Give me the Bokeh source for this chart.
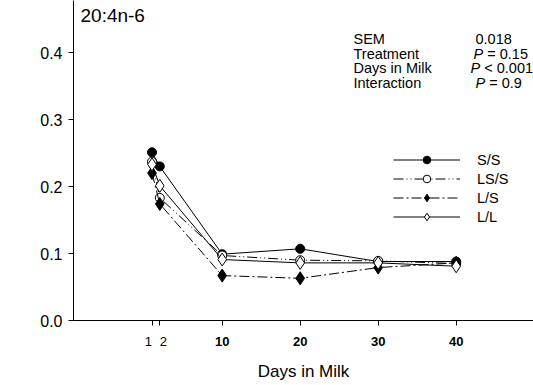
from bokeh.plotting import figure
from bokeh.models import (Label, Legend, LegendItem, LinearAxis,
                          FixedTicker, Range1d, PrintfTickFormatter)
from bokeh.embed import file_html
from bokeh.resources import INLINE

# ---------------- data ----------------
days = [1, 2, 10, 20, 30, 40]
ss = [0.251, 0.230, 0.099, 0.107, 0.088, 0.088]
lss = [0.237, 0.183, 0.097, 0.090, 0.089, 0.085]
ls = [0.220, 0.174, 0.067, 0.063, 0.079, 0.086]
ll = [0.233, 0.201, 0.091, 0.086, 0.086, 0.081]
series_names = ["S/S", "LS/S", "L/S", "L/L"]

x_ticks = [1, 2, 10, 20, 30, 40]
bold_ticks = [10, 20, 30, 40]
y_ticks = [0.0, 0.1, 0.2, 0.3, 0.4]

title_text = "20:4n-6"
x_label = "Days in Milk"
stats_names = ["SEM", "Treatment", "Days in Milk", "Interaction"]
stats_p = ["", "P", "P", "P"]
stats_values = ["0.018", "\u00a0= 0.15", "\u00a0< 0.001", "\u00a0= 0.9"]

FONT = "Liberation Sans"

# canvas pixel -> data helpers (for text placement only)
X0, XS = 143.7, 7.8        # canvas x of day 0, px per day
Y0, YS = 320.0, 670.0      # canvas y of value 0, px per unit
def dx(px):
    return (px - X0) / XS
def dy(py):
    return (Y0 - py) / YS

p = figure(frame_width=460, frame_height=320,
           min_border_left=73, min_border_right=0, min_border_top=0,
           min_border_bottom=65,
           x_range=Range1d(dx(73), dx(533)), y_range=Range1d(0, dy(0)),
           output_backend="svg", toolbar_location=None)
p.outline_line_color = None
p.xgrid.visible = False
p.ygrid.visible = False
p.background_fill_color = "white"
p.border_fill_color = "white"

# x axis (ticks + normal labels for 1, 2)
xa = p.xaxis[0]
xa.ticker = FixedTicker(ticks=x_ticks)
xa.minor_tick_line_color = None
xa.major_tick_in = 0
xa.major_tick_out = 5
xa.major_label_standoff = 8
xa.major_label_text_font = FONT
xa.major_label_text_font_size = "13px"
xa.major_label_text_color = "black"
overrides = {t: "" for t in bold_ticks}
overrides[1] = "1\u00a0\u00a0"
overrides[2] = "\u00a0\u00a02"
xa.major_label_overrides = overrides
xa.axis_line_color = "black"
xa.major_tick_line_color = "black"

# second x axis: bold labels for 10..40 and the axis title
xb = LinearAxis(ticker=FixedTicker(ticks=bold_ticks))
xb.axis_line_color = None
xb.major_tick_line_color = None
xb.minor_tick_line_color = None
xb.major_tick_in = 0
xb.major_tick_out = 0
xb.major_label_standoff = -15
xb.major_label_text_font = FONT
xb.major_label_text_font_size = "13px"
xb.major_label_text_font_style = "bold"
xb.major_label_text_color = "black"
xb.axis_label = x_label
xb.axis_label_text_font = FONT
xb.axis_label_text_font_size = "17px"
xb.axis_label_text_font_style = "normal"
xb.axis_label_text_color = "black"
xb.axis_label_standoff = 13
p.add_layout(xb, "below")

ya = p.yaxis[0]
ya.ticker = FixedTicker(ticks=y_ticks)
ya.formatter = PrintfTickFormatter(format="%.1f")
ya.minor_tick_line_color = None
ya.major_tick_in = 0
ya.major_tick_out = 5
ya.major_label_standoff = 6
ya.major_label_text_font = FONT
ya.major_label_text_font_size = "16px"
ya.major_label_text_color = "black"
ya.axis_line_color = "black"
ya.major_tick_line_color = "black"

# series
styles = [
    dict(dash="solid", marker="circle", fill="black", size=9),
    dict(dash="10 3 1 3 1 3", marker="circle", fill="white", size=9),
    dict(dash="10 3 2 3", marker="diamond", fill="black", size=13),
    dict(dash="solid", marker="diamond", fill="white", size=13),
]
items = []
for name, vals, st in zip(series_names, [ss, lss, ls, ll], styles):
    r1 = p.line(days, vals, line_color="black", line_width=1, line_dash=st["dash"])
    r2 = p.scatter(days, vals, marker=st["marker"], size=st["size"],
                   fill_color=st["fill"], line_color="black", line_width=1)
    items.append(LegendItem(label=name, renderers=[r1, r2]))

legend = Legend(items=items, location=(320, 94), padding=0, margin=0, spacing=0,
                glyph_width=67, glyph_height=19, label_height=19,
                label_standoff=17, label_text_font=FONT,
                label_text_font_size="14.5px", label_text_color="black",
                border_line_color=None, background_fill_alpha=0)
p.add_layout(legend)

# title
p.add_layout(Label(x=dx(80), y=dy(14.5), text=title_text, text_font=FONT,
                   text_font_size="19px", text_baseline="middle",
                   text_color="black"))

# stats block
row_y = [38.5, 53, 67.5, 82]
p_x = [475, 473, 470, 475]
for nm, pp, val, ry, px in zip(stats_names, stats_p, stats_values, row_y, p_x):
    p.add_layout(Label(x=dx(353), y=dy(ry), text=nm, text_font=FONT,
                       text_font_size="14.5px", text_baseline="middle",
                       text_color="black"))
    if pp:
        p.add_layout(Label(x=dx(px), y=dy(ry), text=pp, text_font=FONT,
                           text_font_size="14.5px", text_font_style="italic",
                           text_baseline="middle", text_color="black"))
        p.add_layout(Label(x=dx(px + 9.7), y=dy(ry), text=val, text_font=FONT,
                           text_font_size="14.5px", text_baseline="middle",
                           text_color="black"))
    else:
        p.add_layout(Label(x=dx(px), y=dy(ry), text=val, text_font=FONT,
                           text_font_size="14.5px", text_baseline="middle",
                           text_color="black"))

open("out.html", "w").write(file_html(p, INLINE))
